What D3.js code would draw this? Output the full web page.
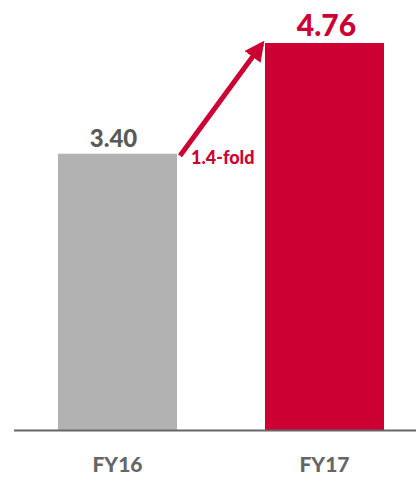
<!DOCTYPE html>
<html>
<head>
<meta charset="utf-8">
<script src="https://cdn.jsdelivr.net/npm/d3@7"></script>
<style>
  body { margin: 0; background: #fff; }
  text { font-family: Lato, "Open Sans", sans-serif; font-weight: 900; }
</style>
</head>
<body>
<div id="chart"></div>
<script>
// data
let years = ["FY16", "FY17"];
let values = [3.40, 4.76];
let valueLabels = ["3.40", "4.76"];
let growthLabel = "1.4-fold";

let width = 416, height = 479;
let baseY = 430.5;

let svg = d3.select("#chart").append("svg")
    .attr("width", width)
    .attr("height", height);

let xScale = d3.scaleBand().domain(years).range([14, 428])
    .paddingInner(0.425).paddingOuter(0.2126);
let yScale = d3.scaleLinear().domain([0, 4.76]).range([baseY, 43]);

let colors = ["#b2b2b2", "#cc0033"];
let labelColors = ["#595959", "#cc0033"];
let labelSizes = [24, 30];

// bars
svg.selectAll(".bar")
    .data(values)
    .enter().append("rect")
    .attr("class", "bar")
    .attr("x", (d, i) => xScale(years[i]))
    .attr("width", xScale.bandwidth())
    .attr("y", d => yScale(d))
    .attr("height", d => baseY - yScale(d))
    .attr("fill", (d, i) => colors[i]);

// baseline
svg.append("line")
    .attr("x1", 14).attr("x2", width)
    .attr("y1", baseY).attr("y2", baseY)
    .attr("stroke", "#666").attr("stroke-width", 2);

// value labels
svg.selectAll(".val")
    .data(values)
    .enter().append("text")
    .attr("class", "val")
    .attr("x", (d, i) => xScale(years[i]) + xScale.bandwidth() / 2 + (i ? 2 : -4))
    .attr("y", d => yScale(d) - 7)
    .attr("text-anchor", "middle")
    .attr("fill", (d, i) => labelColors[i])
    .style("font-size", (d, i) => labelSizes[i] + "px")
    .text((d, i) => valueLabels[i]);

// category labels
svg.selectAll(".cat")
    .data(years)
    .enter().append("text")
    .attr("class", "cat")
    .attr("x", d => xScale(d) + xScale.bandwidth() / 2)
    .attr("y", 472)
    .attr("text-anchor", "middle")
    .attr("fill", "#666")
    .style("font-size", "21px")
    .text(d => d);

// growth arrow
svg.append("defs").append("marker")
    .attr("id", "head")
    .attr("viewBox", "0 0 10 10")
    .attr("refX", 8).attr("refY", 5)
    .attr("markerWidth", 4).attr("markerHeight", 4)
    .attr("orient", "auto")
    .append("path")
    .attr("d", "M0,0 L10,5 L0,10 Z")
    .attr("fill", "#cc0033");

let x0 = xScale("FY16") + xScale.bandwidth() + 3;
let x1 = xScale("FY17") - 3;
svg.append("line")
    .attr("x1", x0).attr("y1", yScale(values[0]) + 2)
    .attr("x2", x1).attr("y2", yScale(values[1]) + 1)
    .attr("stroke", "#cc0033")
    .attr("stroke-width", 5)
    .attr("marker-end", "url(#head)");

svg.append("text")
    .attr("x", x0 + 11)
    .attr("y", yScale(values[0]) + 10)
    .attr("fill", "#cc0033")
    .style("font-size", "18px")
    .text(growthLabel);
</script>
</body>
</html>
